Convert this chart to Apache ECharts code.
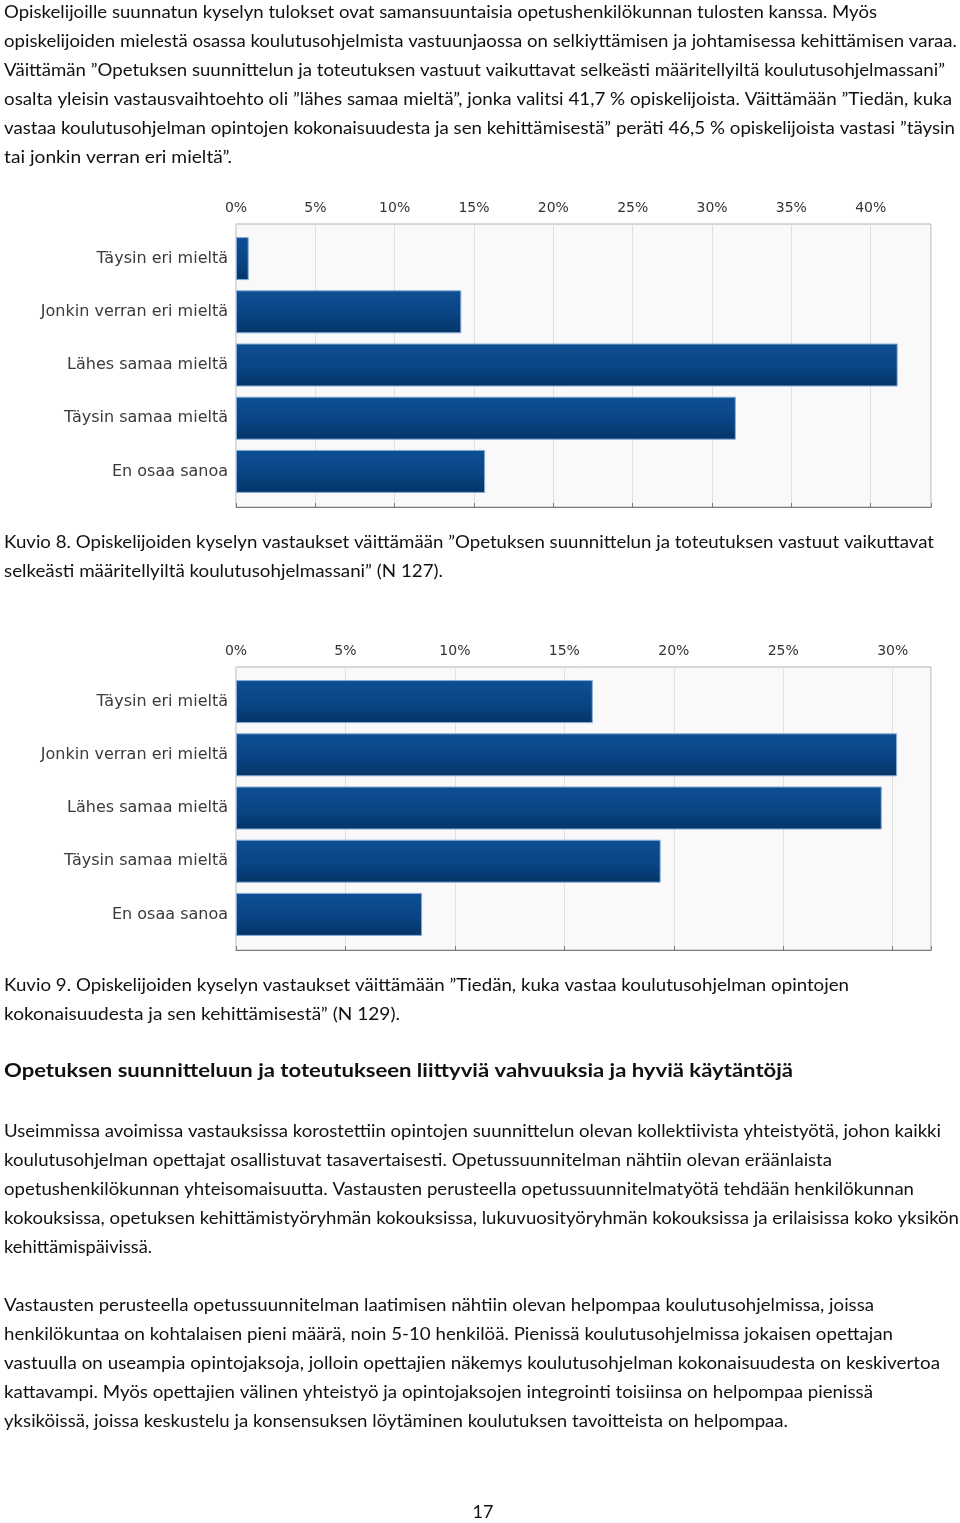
<!DOCTYPE html>
<html>
<head>
<meta charset="utf-8">
<script src="https://cdn.jsdelivr.net/npm/echarts@6/dist/echarts.min.js"></script>
<style>
html,body{margin:0;padding:0;background:#fff;}
#page{width:960px;height:1523px;}
</style>
</head>
<body>
<div id="page"></div>
<script>
// ---- data ----
const categories = ['Täysin eri mieltä', 'Jonkin verran eri mieltä', 'Lähes samaa mieltä', 'Täysin samaa mieltä', 'En osaa sanoa'];
const kuvio8Values = [0.8, 14.2, 41.7, 31.5, 15.7];
const kuvio9Values = [16.3, 30.2, 29.5, 19.4, 8.5];
const kuvio8Ticks = [0, 5, 10, 15, 20, 25, 30, 35, 40];
const kuvio9Ticks = [0, 5, 10, 15, 20, 25, 30];

const para1 = [
  'Opiskelijoille suunnatun kyselyn tulokset ovat samansuuntaisia opetushenkilökunnan tulosten kanssa. Myös',
  'opiskelijoiden mielestä osassa koulutusohjelmista vastuunjaossa on selkiyttämisen ja johtamisessa kehittämisen varaa.',
  'Väittämän ”Opetuksen suunnittelun ja toteutuksen vastuut vaikuttavat selkeästi määritellyiltä koulutusohjelmassani”',
  'osalta yleisin vastausvaihtoehto oli ”lähes samaa mieltä”, jonka valitsi 41,7 % opiskelijoista. Väittämään ”Tiedän, kuka',
  'vastaa koulutusohjelman opintojen kokonaisuudesta ja sen kehittämisestä” peräti 46,5 % opiskelijoista vastasi ”täysin',
  'tai jonkin verran eri mieltä”.'
];
const caption8 = [
  'Kuvio 8. Opiskelijoiden kyselyn vastaukset väittämään ”Opetuksen suunnittelun ja toteutuksen vastuut vaikuttavat',
  'selkeästi määritellyiltä koulutusohjelmassani” (N 127).'
];
const caption9 = [
  'Kuvio 9. Opiskelijoiden kyselyn vastaukset väittämään ”Tiedän, kuka vastaa koulutusohjelman opintojen',
  'kokonaisuudesta ja sen kehittämisestä” (N 129).'
];
const heading = ['Opetuksen suunnitteluun ja toteutukseen liittyviä vahvuuksia ja hyviä käytäntöjä'];
const para2 = [
  'Useimmissa avoimissa vastauksissa korostettiin opintojen suunnittelun olevan kollektiivista yhteistyötä, johon kaikki',
  'koulutusohjelman opettajat osallistuvat tasavertaisesti. Opetussuunnitelman nähtiin olevan eräänlaista',
  'opetushenkilökunnan yhteisomaisuutta. Vastausten perusteella opetussuunnitelmatyötä tehdään henkilökunnan',
  'kokouksissa, opetuksen kehittämistyöryhmän kokouksissa, lukuvuosityöryhmän kokouksissa ja erilaisissa koko yksikön',
  'kehittämispäivissä.'
];
const para3 = [
  'Vastausten perusteella opetussuunnitelman laatimisen nähtiin olevan helpompaa koulutusohjelmissa, joissa',
  'henkilökuntaa on kohtalaisen pieni määrä, noin 5-10 henkilöä. Pienissä koulutusohjelmissa jokaisen opettajan',
  'vastuulla on useampia opintojaksoja, jolloin opettajien näkemys koulutusohjelman kokonaisuudesta on keskivertoa',
  'kattavampi. Myös opettajien välinen yhteistyö ja opintojaksojen integrointi toisiinsa on helpompaa pienissä',
  'yksiköissä, joissa keskustelu ja konsensuksen löytäminen koulutuksen tavoitteista on helpompaa.'
];
const pageNumber = '17';

// ---- layout (positions, not data) ----
const BODY_FONT = '18px Lato';
const HEAD_FONT = 'bold 19px Lato';
const blocks = [
  {lines: para1, y: 12, rights: [877, 957, 945, 952, 955, 232], font: BODY_FONT},
  {lines: caption8, y: 542, rights: [934, 443], font: BODY_FONT},
  {lines: caption9, y: 985, rights: [849, 400], font: BODY_FONT},
  {lines: heading, y: 1071, rights: [793], font: HEAD_FONT},
  {lines: para2, y: 1131, rights: [941, 832, 914, 959, 152], font: BODY_FONT},
  {lines: para3, y: 1305, rights: [874, 893, 940, 873, 788], font: BODY_FONT}
];
const LINE_H = 29;
const LEFT = 4;

const mctx = document.createElement('canvas').getContext('2d');
function measure(text, font) { mctx.font = font; return mctx.measureText(text).width; }

const graphics = [];
blocks.forEach(b => {
  b.lines.forEach((t, i) => {
    const w = measure(t, b.font);
    const target = b.rights[i] - LEFT;
    graphics.push({
      type: 'text', x: LEFT, y: b.y + i * LINE_H, scaleX: target / w, silent: true,
      style: {text: t, x: 0, y: 0, font: b.font, fill: '#111', verticalAlign: 'middle', align: 'left'}
    });
  });
});
graphics.push({
  type: 'text', x: 483, y: 1512, silent: true,
  style: {text: pageNumber, x: 0, y: 0, font: '18px Lato', fill: '#111', verticalAlign: 'middle', align: 'center'}
});

const barColor = new echarts.graphic.LinearGradient(0, 0, 0, 1, [
  {offset: 0, color: '#0d4f93'},
  {offset: 0.55, color: '#0a4585'},
  {offset: 1, color: '#043466'}
]);

const PLOT_LEFT = 236, PLOT_W = 695, PLOT_H = 283;
const charts = [
  {top: 224, max: 43.8, ticks: kuvio8Ticks, values: kuvio8Values},
  {top: 667, max: 31.75, ticks: kuvio9Ticks, values: kuvio9Values}
];

const grid = [], xAxis = [], yAxis = [], series = [];
charts.forEach((c, k) => {
  // frame grid (background, border, top axis, split lines)
  const fi = grid.length;
  grid.push({left: PLOT_LEFT, top: c.top, width: PLOT_W, height: PLOT_H, show: true,
    backgroundColor: '#f9f9f9', borderColor: '#b3b3b3', borderWidth: 1});
  xAxis.push({
    type: 'value', gridIndex: fi, position: 'top', min: 0, max: c.max, interval: 5,
    axisLine: {show: true, lineStyle: {color: '#7a7a7a', width: 1}},
    axisTick: {show: true, length: 4, lineStyle: {color: '#7a7a7a'}},
    splitLine: {show: true, lineStyle: {color: '#e0e0e0', width: 1}},
    axisLabel: {
      margin: 9, color: '#333', fontFamily: 'DejaVu Sans', fontSize: 14,
      formatter: v => c.ticks.indexOf(Math.round(v * 100) / 100) >= 0 ? v + '%' : ''
    }
  });
  yAxis.push({type: 'value', gridIndex: fi, show: false, min: 0, max: 1});
  // inner grid for the bars (categories inset from the frame)
  const bi = grid.length;
  grid.push({left: PLOT_LEFT, top: c.top + 8, width: PLOT_W, height: 266, show: false});
  xAxis.push({type: 'value', gridIndex: bi, min: 0, max: c.max, show: false,
    splitLine: {show: false}});
  yAxis.push({
    type: 'category', gridIndex: bi, data: categories, inverse: true,
    axisLine: {show: false}, axisTick: {show: false}, splitLine: {show: false},
    axisLabel: {margin: 8, color: '#3a3a3a', fontFamily: 'DejaVu Sans', fontSize: 16}
  });
  series.push({type: 'bar', xAxisIndex: bi, yAxisIndex: bi, data: c.values, barWidth: 43,
    itemStyle: {color: barColor, borderColor: '#86acd6', borderWidth: 1}});
});

const option = {
  animation: false,
  backgroundColor: '#fff',
  grid, xAxis, yAxis, series,
  graphic: graphics
};

const chart = echarts.init(document.getElementById('page'), null, {renderer: 'canvas', width: 960, height: 1523});
chart.setOption(option);
</script>
</body>
</html>
